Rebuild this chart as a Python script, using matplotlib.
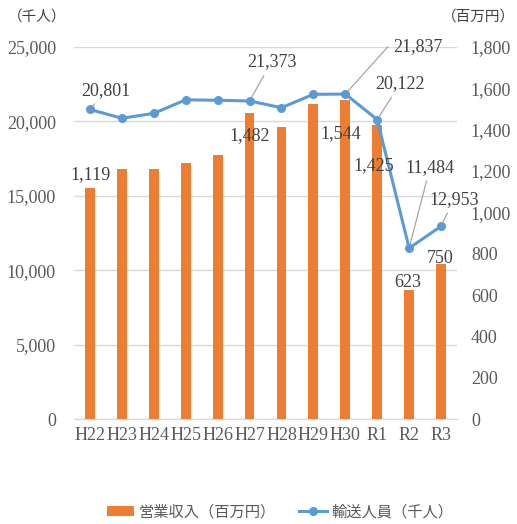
import matplotlib
matplotlib.use("Agg")
import matplotlib.pyplot as plt
from matplotlib.ticker import FuncFormatter

plt.rcParams['font.family'] = ['Liberation Serif', 'Noto Sans CJK JP']

# データ
years = ['H22', 'H23', 'H24', 'H25', 'H26', 'H27', 'H28', 'H29', 'H30', 'R1', 'R2', 'R3']
revenue = [1119, 1210, 1210, 1238, 1276, 1482, 1414, 1523, 1544, 1425, 623, 750]   # 営業収入（百万円）
riders = [20801, 20210, 20540, 21450, 21420, 21373, 20920, 21820, 21837, 20122, 11484, 12953]  # 輸送人員（千人）

# 表示するラベル (index, 位置オフセット px)
rider_labels = {0: (16, 19), 5: (22, 39), 8: (73, 47), 9: (23, 36), 10: (21, 81), 11: (13, 27)}
revenue_labels = {0: (1, 13), 5: (0, -23), 8: (-5, -34), 9: (-3, -41), 10: (-1, 8), 11: (-1, 6)}

orange = '#ED7D31'
blue = '#5B9BD5'
grid_c = '#D9D9D9'
tick_c = '#595959'
lab_c = '#404040'
fs = 13

fig = plt.figure(figsize=(5.17, 5.24), dpi=100)
ax = fig.add_axes([74 / 517, 105 / 524, 383 / 517, 372 / 524])
ax2 = ax.twinx()

x = list(range(len(years)))

# 左軸（千人）: グリッドのみ
ax.set_ylim(0, 25000)
ax.set_yticks(range(0, 25001, 5000))
ax.yaxis.set_major_formatter(FuncFormatter(lambda v, p: f'{int(v):,}'))
ax.grid(axis='y', color=grid_c, lw=1)
ax.set_axisbelow(True)

# 右軸（百万円）: 棒グラフ
bars = ax2.bar(x, revenue, width=0.31, color=orange, zorder=2)
ax2.set_ylim(0, 1800)
ax2.set_yticks(range(0, 1801, 200))
ax2.yaxis.set_major_formatter(FuncFormatter(lambda v, p: f'{int(v):,}'))
ax.set_xlim(-0.5, len(years) - 0.5)
ax.set_xticks(x)
ax.set_xticklabels(years)

# 折れ線（左軸の座標で描画し、棒より手前に）
line, = ax2.plot(x, riders, color=blue, lw=2.2, marker='o', ms=5.5,
                 transform=ax.transData, zorder=4, clip_on=False)

for a in (ax, ax2):
    for s in a.spines.values():
        s.set_visible(False)
    a.tick_params(length=0, colors=tick_c, labelsize=fs)
ax.spines['bottom'].set_visible(True)
ax.spines['bottom'].set_color(grid_c)
ax.tick_params(axis='y', pad=13)
ax2.tick_params(axis='y', pad=10)
ax.tick_params(axis='x', pad=6)

# データラベル
for i, (dx, dy) in revenue_labels.items():
    ax2.annotate(f'{revenue[i]:,}', xy=(i, revenue[i]), xytext=(dx, dy),
                 textcoords='offset pixels', ha='center', va='center',
                 fontsize=fs, color=lab_c, zorder=5)

for i, (dx, dy) in rider_labels.items():
    if i == 8:
        cs = 'angle,angleA=0,angleB=48,rad=0'
    else:
        cs = 'arc3'
    ax2.annotate(f'{riders[i]:,}', xy=(i, riders[i]), xycoords=ax.transData,
                 xytext=(dx, dy), textcoords='offset pixels',
                 ha='center', va='center', fontsize=fs, color=lab_c, zorder=5,
                 arrowprops=dict(arrowstyle='-', color='#A6A6A6', lw=0.9,
                                 shrinkA=2, shrinkB=3, connectionstyle=cs))

# 単位
fig.text(8 / 517, 1 - 17 / 524, '（千人）', fontsize=10.5, color=lab_c, va='center', ha='left')
fig.text(515 / 517, 1 - 17 / 524, '（百万円）', fontsize=10.5, color=lab_c, va='center', ha='right')

fig.legend([bars, line], ['営業収入（百万円）', '輸送人員（千人）'],
           loc='center', bbox_to_anchor=(280 / 517, 12 / 524), ncol=2,
           frameon=False, fontsize=11, labelcolor=tick_c,
           handlelength=1.8, handletextpad=0.3, columnspacing=1.5)

fig.savefig('out.png', dpi=100)
